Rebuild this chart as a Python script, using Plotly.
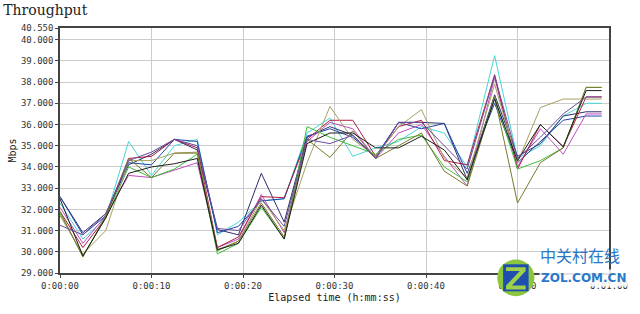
import plotly.graph_objects as go

t = [0, 2.5, 5, 7.5, 10, 12.5, 15, 17.2, 19.5, 22, 24.5, 27, 29.5, 32, 34.5,
     37, 39.5, 42, 44.5, 47.5, 50, 52.5, 55, 57.5, 59.2]

s_cyan = [32.3, 30.6, 31.6, 35.2, 33.6, 35.0, 35.3, 30.8, 31.4, 32.4, 32.5, 35.6, 36.3, 34.5, 34.9,
          35.2, 35.9, 35.6, 34.0, 39.25, 34.4, 35.0, 36.4, 37.0, 37.0]
s_navy = [32.6, 30.9, 31.8, 34.1, 34.6, 35.3, 34.8, 31.05, 30.8, 33.7, 31.4, 35.4, 35.9, 35.5, 34.4,
          36.1, 36.1, 36.05, 33.4, 37.4, 34.5, 35.1, 36.4, 36.6, 36.6]
s_blue = [32.6, 30.8, 31.7, 34.2, 34.1, 35.3, 35.2, 30.9, 31.2, 32.4, 32.5, 35.45, 35.8, 35.4, 34.5,
          36.1, 35.8, 36.05, 33.7, 37.0, 34.2, 35.2, 36.2, 36.4, 36.4]
s_magenta = [32.1, 30.4, 31.7, 33.6, 33.5, 33.85, 34.2, 30.2, 30.6, 32.7, 30.9, 35.2, 36.1, 35.8, 34.4,
             35.6, 36.0, 34.5, 33.1, 38.2, 34.0, 35.8, 34.6, 36.5, 36.5]
s_crimson = [31.9, 30.2, 31.6, 34.4, 34.5, 35.3, 34.9, 30.2, 30.7, 32.6, 32.55, 35.3, 36.2, 36.2, 34.5,
             35.9, 36.2, 34.3, 34.1, 38.35, 33.9, 36.0, 34.95, 37.3, 37.3]
s_green = [31.8, 29.8, 31.6, 34.0, 33.5, 33.9, 34.6, 29.9, 30.4, 32.1, 30.6, 35.9, 35.4, 35.0, 34.6,
           35.3, 35.5, 34.0, 33.3, 37.3, 33.9, 34.3, 34.9, 37.75, 37.75]
s_khaki = [31.7, 29.9, 31.0, 34.3, 34.3, 34.65, 34.7, 30.1, 30.5, 32.5, 31.0, 34.2, 36.85, 35.3, 34.5,
           35.9, 36.7, 34.4, 33.5, 37.9, 34.2, 36.8, 37.2, 37.2, 37.2]
s_olive = [31.9, 29.75, 31.7, 34.4, 33.5, 34.65, 34.65, 30.05, 30.5, 32.3, 30.7, 35.3, 34.45, 35.7, 34.4,
           35.0, 35.6, 33.8, 33.1, 37.3, 32.3, 34.2, 34.9, 37.75, 37.75]
s_black = [32.5, 29.8, 31.6, 33.7, 34.0, 34.15, 34.4, 30.1, 30.4, 32.2, 30.6, 35.1, 35.6, 35.6, 34.9,
           34.9, 35.45, 34.8, 33.4, 37.2, 34.3, 36.0, 34.95, 37.6, 37.6]
s_purple = [31.25, 30.8, 31.8, 34.3, 34.7, 35.3, 35.0, 31.1, 31.0, 32.5, 31.2, 35.3, 35.1, 35.5, 34.4,
            36.1, 36.1, 35.0, 33.9, 38.3, 34.4, 35.4, 36.5, 37.3, 37.3]

series = [
    ("Pair 1", s_cyan, "#45d6d6"),
    ("Pair 2", s_navy, "#2e2e6e"),
    ("Pair 3", s_blue, "#2244aa"),
    ("Pair 4", s_magenta, "#c04cc0"),
    ("Pair 5", s_crimson, "#b01e44"),
    ("Pair 6", s_green, "#3cbf3c"),
    ("Pair 7", s_khaki, "#a8a060"),
    ("Pair 8", s_olive, "#7a7a2c"),
    ("Pair 9", s_black, "#1e1e1e"),
    ("Pair 10", s_purple, "#6a4c9c"),
]

x_tickvals = [0, 10, 20, 30, 40, 50, 60]
x_ticktext = ["0:00:00", "0:00:10", "0:00:20", "0:00:30", "0:00:40", "0:00:50", "0:01:00"]
y_tickvals = [29, 30, 31, 32, 33, 34, 35, 36, 37, 38, 39, 40, 40.55]
y_ticktext = ["29.000", "30.000", "31.000", "32.000", "33.000", "34.000", "35.000",
              "36.000", "37.000", "38.000", "39.000", "40.000", "40.550"]

fig = go.Figure()
for name, vals, col in series:
    fig.add_trace(go.Scatter(x=t, y=vals, mode="lines", name=name,
                             line=dict(color=col, width=1)))

mono = "DejaVu Sans Mono"
fig.update_layout(
    width=640, height=314,
    margin=dict(l=53, r=27, t=28, b=32),
    paper_bgcolor="white", plot_bgcolor="white",
    showlegend=False,
    title=dict(text="Throughput", x=0.005, xanchor="left", y=0.985, yanchor="top",
               font=dict(family="DejaVu Serif", size=14, color="#222")),
)
fig.update_xaxes(
    range=[0, 60], tickvals=x_tickvals, ticktext=x_ticktext,
    showgrid=True, gridcolor="#cccccc", gridwidth=1,
    showline=True, linecolor="#444", linewidth=1.5, mirror=True,
    ticks="outside", ticklen=3, tickcolor="#444",
    tickfont=dict(family=mono, size=9, color="#333"),
    title=dict(text="Elapsed time (h:mm:ss)", standoff=4,
               font=dict(family=mono, size=10, color="#222")),
    zeroline=False,
)
fig.update_yaxes(
    range=[29, 40.55], tickvals=y_tickvals, ticktext=y_ticktext,
    showgrid=True, gridcolor="#cccccc", gridwidth=1,
    showline=True, linecolor="#444", linewidth=1.5, mirror=True,
    ticks="outside", ticklen=3, tickcolor="#444",
    tickfont=dict(family=mono, size=9, color="#333"),
    title=dict(text="Mbps", standoff=2, font=dict(family=mono, size=10, color="#222")),
    zeroline=False,
)

# watermark (positions in pixels converted to paper coords)
def px(x):
    return (x - 53) / 560.0

def py(y):
    return (282 - y) / 254.0

fig.add_shape(type="circle", xref="paper", yref="paper", x0=px(499), x1=px(537), y0=py(306), y1=py(268),
              fillcolor="#8cc63f", line=dict(width=0), layer="above")
fig.add_shape(type="rect", xref="paper", yref="paper", x0=px(505), x1=px(531), y0=py(301), y1=py(273),
              fillcolor="#1f4fae", line=dict(width=0), layer="above")
z_pts = [(508, 276), (528, 276), (528, 280), (514, 295), (528, 295), (528, 299),
         (508, 299), (508, 295), (522, 280), (508, 280)]
z_path = "M " + " L ".join(f"{px(a):.5f},{py(b):.5f}" for a, b in z_pts) + " Z"
fig.add_shape(type="path", xref="paper", yref="paper", path=z_path,
              fillcolor="#9fd04a", line=dict(width=0), layer="above")
fig.add_annotation(xref="paper", yref="paper", x=px(541), y=py(278), xanchor="left", text="中关村在线",
                   showarrow=False, font=dict(family="Noto Sans CJK SC", size=16, color="#2a78c8"))
fig.add_annotation(xref="paper", yref="paper", x=px(542), y=py(296), xanchor="left", text="<b>ZOL.COM.CN</b>",
                   showarrow=False, bgcolor="rgba(255,255,255,0.85)",
                   font=dict(family="DejaVu Sans", size=12, color="#2a78c8"))

fig.write_html("out.html")
